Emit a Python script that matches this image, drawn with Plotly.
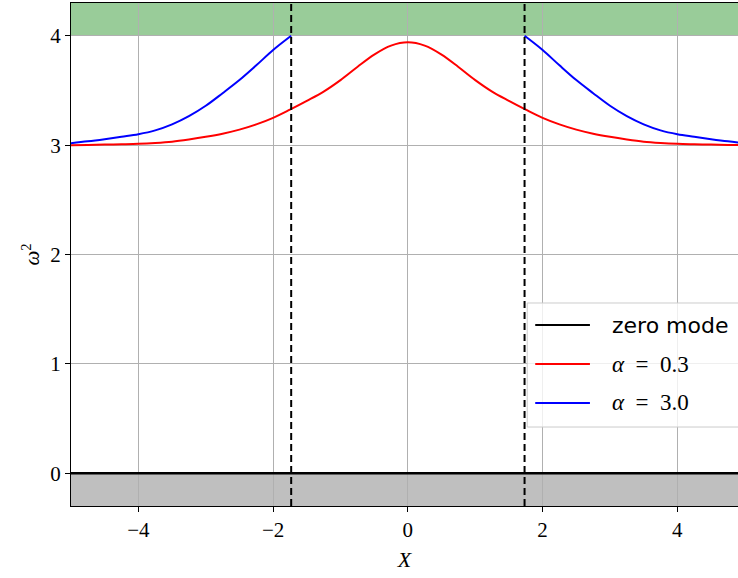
import plotly.graph_objects as go

# ---- data ----
red_x = [-5.0, -4.75, -4.5, -4.25, -4.0, -3.75, -3.5, -3.25, -3.0, -2.75, -2.5, -2.25, -2.0, -1.75,
         -1.5, -1.25, -1.0, -0.75, -0.5, -0.25, 0.0,
         0.25, 0.5, 0.75, 1.0, 1.25, 1.5, 1.75, 2.0, 2.25, 2.5, 2.75, 3.0, 3.25, 3.5, 3.75,
         4.0, 4.25, 4.5, 4.75, 5.0]
red_y = [3.000, 3.002, 3.005, 3.008, 3.012, 3.020, 3.032, 3.052, 3.076, 3.105, 3.142, 3.190, 3.250, 3.325,
         3.405, 3.490, 3.595, 3.715, 3.828, 3.910, 3.940,
         3.910, 3.828, 3.715, 3.595, 3.490, 3.405, 3.325, 3.250, 3.190, 3.142, 3.105, 3.076, 3.052, 3.032, 3.020,
         3.012, 3.008, 3.005, 3.002, 3.000]

blue_left_x = [-5.0, -4.75, -4.5, -4.25, -4.0, -3.75, -3.5, -3.25, -3.0, -2.75, -2.5, -2.25, -2.0, -1.732]
blue_left_y = [3.018, 3.035, 3.055, 3.077, 3.100, 3.135, 3.190, 3.265, 3.360, 3.475, 3.595, 3.730, 3.870, 4.000]
blue_right_x = [1.732, 2.0, 2.25, 2.5, 2.75, 3.0, 3.25, 3.5, 3.75, 4.0, 4.25, 4.5, 4.75, 5.0]
blue_right_y = [4.000, 3.870, 3.730, 3.595, 3.475, 3.360, 3.265, 3.190, 3.135, 3.100, 3.077, 3.055, 3.035, 3.018]

zero_x = [-5.0, 5.0]
zero_y = [0.0, 0.0]

dashed_x = [-1.732, 1.732]
green_band = [4.0, 4.3]
gray_band = [-0.3, 0.0]

x_range = [-5.0, 4.9]
y_range = [-0.3, 4.3]
x_ticks = [-4, -2, 0, 2, 4]
y_ticks = [0, 1, 2, 3, 4]

legend_labels = ["zero mode", "<i>α</i>\u2002=\u20020.3", "<i>α</i>\u2002=\u20023.0"]
legend_colors = ["black", "red", "blue"]
legend_fonts = ["DejaVu Sans", "Liberation Serif", "Liberation Serif"]

serif = "Liberation Serif"

fig = go.Figure()

fig.add_trace(go.Scatter(x=zero_x, y=zero_y, mode="lines", name="zero mode",
                         line=dict(color="black", width=2.5), showlegend=False))
fig.add_trace(go.Scatter(x=red_x, y=red_y, mode="lines", name="α = 0.3",
                         line=dict(color="red", width=2, shape="spline", smoothing=1.0), showlegend=False))
fig.add_trace(go.Scatter(x=blue_left_x + [None] + blue_right_x,
                         y=blue_left_y + [None] + blue_right_y,
                         mode="lines", name="α = 3.0", connectgaps=False,
                         line=dict(color="blue", width=2, shape="spline", smoothing=1.0), showlegend=False))

shapes = [
    dict(type="rect", xref="paper", yref="y", x0=0, x1=1, y0=green_band[0], y1=green_band[1],
         fillcolor="rgba(0,128,0,0.4)", line=dict(width=0), layer="below"),
    dict(type="rect", xref="paper", yref="y", x0=0, x1=1, y0=gray_band[0], y1=gray_band[1],
         fillcolor="rgba(128,128,128,0.5)", line=dict(width=0), layer="below"),
]
for xv in dashed_x:
    shapes.append(dict(type="line", xref="x", yref="paper", x0=xv, x1=xv, y0=0, y1=1,
                       line=dict(color="black", width=2, dash="7px,4px"), layer="above"))

# custom legend (box, line samples, labels) in paper coordinates
shapes.append(dict(type="rect", xref="paper", yref="paper", x0=0.684, x1=1.03, y0=0.157, y1=0.4036,
                   fillcolor="rgba(255,255,255,0.8)", line=dict(color="#cccccc", width=1), layer="above"))
annotations = []
row_y = [0.3598, 0.2823, 0.2048]
for lab, col, fnt, yy in zip(legend_labels, legend_colors, legend_fonts, row_y):
    shapes.append(dict(type="line", xref="paper", yref="paper", x0=0.696, x1=0.778, y0=yy, y1=yy,
                       line=dict(color=col, width=2.2), layer="above"))
    annotations.append(dict(xref="paper", yref="paper", x=0.808, y=yy, xanchor="left", yanchor="middle",
                            text=lab, showarrow=False,
                            font=dict(family=fnt, size=22 if fnt == "DejaVu Sans" else 23, color="black")))

fig.update_layout(
    width=738, height=578,
    margin=dict(l=71, r=0, t=3, b=72, autoexpand=False),
    paper_bgcolor="white", plot_bgcolor="white",
    shapes=shapes, annotations=annotations,
    showlegend=False,
    xaxis=dict(range=x_range, tickvals=x_ticks, ticks="outside", ticklen=5, tickcolor="black",
               showline=True, linecolor="black", linewidth=1.2, mirror=True,
               showgrid=True, gridcolor="#b0b0b0", gridwidth=1, zeroline=False,
               tickfont=dict(family=serif, size=21, color="black"),
               title=dict(text="<i>X</i>", font=dict(family=serif, size=22, color="black"), standoff=10)),
    yaxis=dict(range=y_range, tickvals=y_ticks, ticks="outside", ticklen=5, tickcolor="black",
               showline=True, linecolor="black", linewidth=1.2, mirror=False,
               showgrid=True, gridcolor="#b0b0b0", gridwidth=1, zeroline=False,
               tickfont=dict(family=serif, size=21, color="black"),
               title=dict(text="<i>ω</i><sup>2</sup>", font=dict(family=serif, size=21, color="black"), standoff=4)),
)

fig.write_html("out.html", config={"displayModeBar": False},
               post_script="document.body.style.margin='0';document.body.style.overflow='hidden';")
